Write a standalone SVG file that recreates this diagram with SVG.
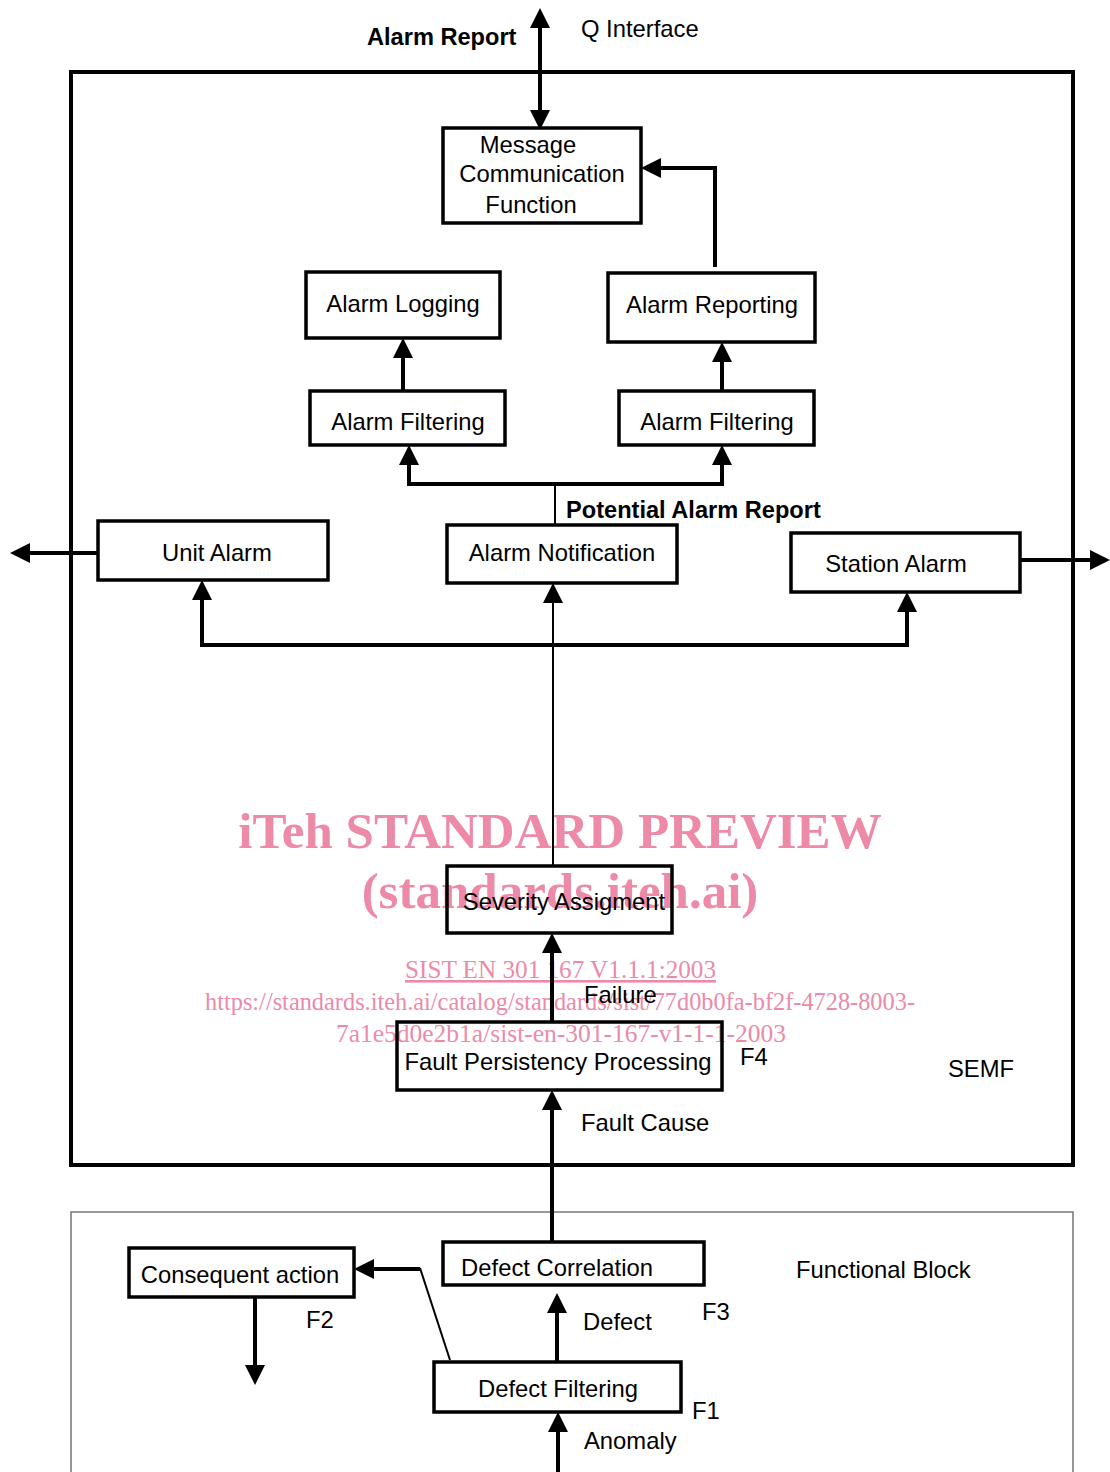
<svg xmlns="http://www.w3.org/2000/svg" width="1110" height="1472" viewBox="0 0 1110 1472">
<style>
.box{fill:none;stroke:#000;stroke-width:3.5}
.t{font-family:"Liberation Sans",Arial,sans-serif;font-size:23.8px;fill:#000}
.b{font-family:"Liberation Sans",Arial,sans-serif;font-size:23.6px;font-weight:bold;fill:#000}
.c{fill:none;stroke:#000;stroke-width:4}
.thin{fill:none;stroke:#000;stroke-width:2}
.wm{font-family:"Liberation Serif","Times New Roman",serif;fill:#ec8aa8}
</style>
<defs>
<marker id="ah" viewBox="0 0 20 20" markerWidth="20" markerHeight="20" refX="4" refY="10" orient="auto-start-reverse" markerUnits="userSpaceOnUse">
<path d="M0,0 L20,10 L0,20 z" fill="#000"/>
</marker>
</defs>
<rect x="0" y="0" width="1110" height="1472" fill="#fff"/>
<g id="watermark">
<text class="wm" x="560" y="848" text-anchor="middle" font-size="51" font-weight="bold">iTeh STANDARD PREVIEW</text>
<text class="wm" x="560" y="908" text-anchor="middle" font-size="51" font-weight="bold">(standards.iteh.ai)</text>
<text class="wm" x="405" y="978" font-size="26" textLength="311" lengthAdjust="spacingAndGlyphs" text-decoration="underline">SIST EN 301 167 V1.1.1:2003</text>
<text class="wm" x="205" y="1010" font-size="26" textLength="710" lengthAdjust="spacingAndGlyphs">https://standards.iteh.ai/catalog/standards/sist/77d0b0fa-bf2f-4728-8003-</text>
<text class="wm" x="336" y="1042" font-size="26" textLength="450" lengthAdjust="spacingAndGlyphs">7a1e5d0e2b1a/sist-en-301-167-v1-1-1-2003</text>
</g>
<g id="semf"><rect x="71" y="72" width="1002" height="1093" fill="none" stroke="#000" stroke-width="4"/></g>
<g id="functional-block"><path d="M71,1472 L71,1212 L1073,1212 L1073,1472" fill="none" stroke="#777" stroke-width="1.5"/></g>
<g id="labels">
<text class="b" x="367" y="45">Alarm Report</text>
<text class="t" x="581" y="37">Q Interface</text>
<text class="b" x="566" y="518">Potential Alarm Report</text>
<text class="t" x="584" y="1003">Failure</text>
<text class="t" x="740" y="1065">F4</text>
<text class="t" x="948" y="1077">SEMF</text>
<text class="t" x="581" y="1131">Fault Cause</text>
<text class="t" x="796" y="1278">Functional Block</text>
<text class="t" x="702" y="1320">F3</text>
<text class="t" x="583" y="1330">Defect</text>
<text class="t" x="306" y="1328">F2</text>
<text class="t" x="692" y="1419">F1</text>
<text class="t" x="584" y="1449">Anomaly</text>
</g>
<g id="connectors">
<path class="c" d="M540,24 L540,114" marker-start="url(#ah)" marker-end="url(#ah)"/>
<path class="c" d="M715,267 L715,168 L657,168" marker-end="url(#ah)"/>
<path class="c" d="M403,391 L403,354" marker-end="url(#ah)"/>
<path class="c" d="M722,391 L722,358" marker-end="url(#ah)"/>
<path class="thin" d="M555,525 L555,484"/>
<path class="c" d="M409,461 L409,484 L722,484 L722,461" marker-start="url(#ah)" marker-end="url(#ah)"/>
<path class="c" d="M98,553 L26,553" marker-end="url(#ah)"/>
<path class="c" d="M1020,560 L1094,560" marker-end="url(#ah)"/>
<path class="c" d="M202,596 L202,645 L907,645 L907,608" marker-start="url(#ah)" marker-end="url(#ah)"/>
<path class="thin" d="M553,865 L553,599" marker-end="url(#ah)"/>
<path class="c" d="M552,1022 L552,949" marker-end="url(#ah)"/>
<path class="c" d="M552,1242 L552,1106" marker-end="url(#ah)"/>
<path class="c" d="M557,1362 L557,1309" marker-end="url(#ah)"/>
<path class="c" d="M558,1472 L558,1428" marker-end="url(#ah)"/>
<path class="c" d="M255,1297 L255,1369" marker-end="url(#ah)"/>
<path class="thin" d="M450,1360 L420,1268"/>
<path class="c" d="M420,1269 L370,1269" marker-end="url(#ah)"/>
</g>
<g id="message-communication">
<rect class="box" x="443" y="128" width="198" height="95"/>
<text class="t" x="528" y="153" text-anchor="middle">Message</text>
<text class="t" x="542" y="182" text-anchor="middle">Communication</text>
<text class="t" x="531" y="213" text-anchor="middle">Function</text>
</g>
<g id="alarm-logging">
<rect class="box" x="306" y="272" width="194" height="66"/>
<text class="t" x="403" y="312" text-anchor="middle">Alarm Logging</text>
</g>
<g id="alarm-reporting">
<rect class="box" x="608" y="273" width="207" height="69"/>
<text class="t" x="712" y="313" text-anchor="middle">Alarm Reporting</text>
</g>
<g id="alarm-filtering-left">
<rect class="box" x="310" y="391" width="195" height="54"/>
<text class="t" x="408" y="430" text-anchor="middle">Alarm Filtering</text>
</g>
<g id="alarm-filtering-right">
<rect class="box" x="619" y="391" width="195" height="54"/>
<text class="t" x="717" y="430" text-anchor="middle">Alarm Filtering</text>
</g>
<g id="unit-alarm">
<rect class="box" x="98" y="521" width="230" height="59"/>
<text class="t" x="217" y="561" text-anchor="middle">Unit Alarm</text>
</g>
<g id="alarm-notification">
<rect class="box" x="447" y="525" width="230" height="58"/>
<text class="t" x="562" y="561" text-anchor="middle">Alarm Notification</text>
</g>
<g id="station-alarm">
<rect class="box" x="791" y="533" width="229" height="59"/>
<text class="t" x="896" y="572" text-anchor="middle">Station Alarm</text>
</g>
<g id="severity-assigment">
<rect class="box" x="447" y="866" width="225" height="67"/>
<text class="t" x="564" y="910" text-anchor="middle">Severity Assigment</text>
</g>
<g id="fault-persistency">
<rect class="box" x="397" y="1022" width="325" height="68"/>
<text class="t" x="558" y="1070" text-anchor="middle">Fault Persistency Processing</text>
</g>
<g id="defect-correlation">
<rect class="box" x="443" y="1242" width="261" height="43"/>
<text class="t" x="557" y="1276" text-anchor="middle">Defect Correlation</text>
</g>
<g id="consequent-action">
<rect class="box" x="129" y="1248" width="225" height="49"/>
<text class="t" x="240" y="1283" text-anchor="middle">Consequent action</text>
</g>
<g id="defect-filtering">
<rect class="box" x="434" y="1362" width="247" height="50"/>
<text class="t" x="558" y="1397" text-anchor="middle">Defect Filtering</text>
</g>
</svg>
